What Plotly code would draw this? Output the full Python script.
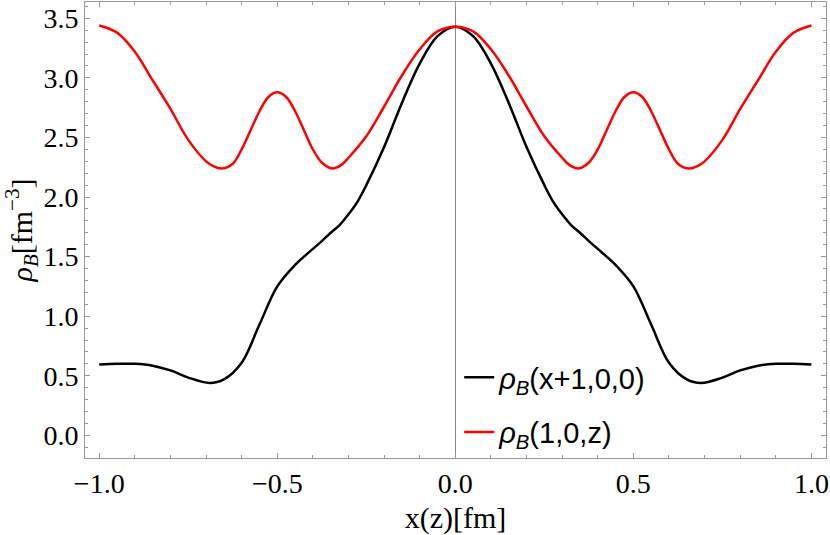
import plotly.graph_objs as go

# rho_B(x+1,0,0), black curve
x_black = [-1.0, -0.95, -0.9, -0.85, -0.8, -0.75, -0.69, -0.65, -0.6, -0.55, -0.5,
           -0.45, -0.4, -0.375, -0.35, -0.325, -0.3, -0.275, -0.25, -0.2, -0.15, -0.1,
           -0.05, 0.0,
           0.05, 0.1, 0.15, 0.2, 0.25, 0.275, 0.3, 0.325, 0.35, 0.375, 0.4, 0.45, 0.5,
           0.55, 0.6, 0.65, 0.69, 0.75, 0.8, 0.85, 0.9, 0.95, 1.0]
y_black = [0.594, 0.60, 0.60, 0.585, 0.545, 0.485, 0.44, 0.47, 0.61, 0.93, 1.25,
           1.43, 1.565, 1.63, 1.70, 1.765, 1.855, 1.96, 2.10, 2.42, 2.79, 3.12,
           3.35, 3.43,
           3.35, 3.12, 2.79, 2.42, 2.10, 1.96, 1.855, 1.765, 1.70, 1.63, 1.565, 1.43, 1.25,
           0.93, 0.61, 0.47, 0.44, 0.485, 0.545, 0.585, 0.60, 0.60, 0.594]

# rho_B(1,0,z), red curve
x_red = [-1.0, -0.95, -0.9, -0.85, -0.8, -0.75, -0.7, -0.68, -0.655, -0.625, -0.6,
         -0.575, -0.55, -0.525, -0.5, -0.475, -0.45, -0.425, -0.4, -0.375, -0.346,
         -0.32, -0.3, -0.25, -0.2, -0.15, -0.1, -0.05, 0.0,
         0.05, 0.1, 0.15, 0.2, 0.25, 0.3, 0.32, 0.346, 0.375, 0.4,
         0.425, 0.45, 0.475, 0.5, 0.525, 0.55, 0.575, 0.6, 0.625, 0.655,
         0.68, 0.7, 0.75, 0.8, 0.85, 0.9, 0.95, 1.0]
y_red = [3.44, 3.38, 3.22, 2.98, 2.74, 2.48, 2.30, 2.26, 2.24, 2.28, 2.40,
         2.56, 2.72, 2.84, 2.88, 2.84, 2.72, 2.56, 2.40, 2.29, 2.24,
         2.27, 2.33, 2.51, 2.76, 3.02, 3.24, 3.39, 3.43,
         3.39, 3.24, 3.02, 2.76, 2.51, 2.33, 2.27, 2.24, 2.29, 2.40,
         2.56, 2.72, 2.84, 2.88, 2.84, 2.72, 2.56, 2.40, 2.28, 2.24,
         2.26, 2.30, 2.48, 2.74, 2.98, 3.22, 3.38, 3.44]

x_ticks = [-1.0, -0.5, 0.0, 0.5, 1.0]
y_ticks = [0.0, 0.5, 1.0, 1.5, 2.0, 2.5, 3.0, 3.5]

serif = 'Liberation Serif, Times New Roman, serif'
sans = 'Liberation Sans, Arial, sans-serif'

trace_black = go.Scatter(x=x_black, y=y_black, mode='lines', line_shape='spline',
                         line={'color': 'black', 'width': 2.5},
                         name='<i>ρ</i><sub><i>B</i></sub>(x+1,0,0)', legendgroup='a')
trace_red = go.Scatter(x=x_red, y=y_red, mode='lines', line_shape='spline',
                       line={'color': 'red', 'width': 2.5},
                       name='<i>ρ</i><sub><i>B</i></sub>(1,0,z)', legendgroup='b')

axis_style = dict(showline=True, linecolor='#999999', linewidth=1, mirror='ticks',
                  ticks='inside', ticklen=5, tickcolor='#999999', showgrid=False,
                  tickfont={'family': serif, 'size': 28, 'color': 'black'},
                  minor={'dtick': 0.1, 'ticks': 'inside', 'ticklen': 3,
                         'tickcolor': '#999999', 'showgrid': False})

layout = go.Layout(
    width=830, height=535,
    font={'family': serif, 'size': 28, 'color': 'black'},
    margin={'l': 85, 'r': 3, 't': 1, 'b': 75},
    plot_bgcolor='white', paper_bgcolor='white',
    xaxis=dict(axis_style, range=[-1.04, 1.041], tickvals=x_ticks, tickformat='.1f',
               zeroline=True, zerolinecolor='#888888', zerolinewidth=1,
               title={'text': 'x(z)[fm]', 'font': {'family': serif, 'size': 30},
                      'standoff': 14}),
    yaxis=dict(axis_style, range=[-0.19, 3.637], tickvals=y_ticks, tickformat='.1f',
               zeroline=False,
               title={'text': '<i>ρ</i><sub><i>B</i></sub>[fm<sup>−3</sup>]',
                      'font': {'family': serif, 'size': 30}, 'standoff': 8}),
    showlegend=True,
    legend={'x': 0.505, 'y': 0.0, 'xanchor': 'left', 'yanchor': 'bottom',
            'bgcolor': 'rgba(0,0,0,0)', 'font': {'family': sans, 'size': 29, 'color': 'black'},
            'tracegroupgap': 14, 'itemwidth': 30},
)

figure = go.Figure(data=[trace_black, trace_red], layout=layout)
# drop the default page margin so the figure sits at the window's corner
figure.write_html('out.html', config={'displayModeBar': False},
                  post_script="document.body.style.margin='0px';")
